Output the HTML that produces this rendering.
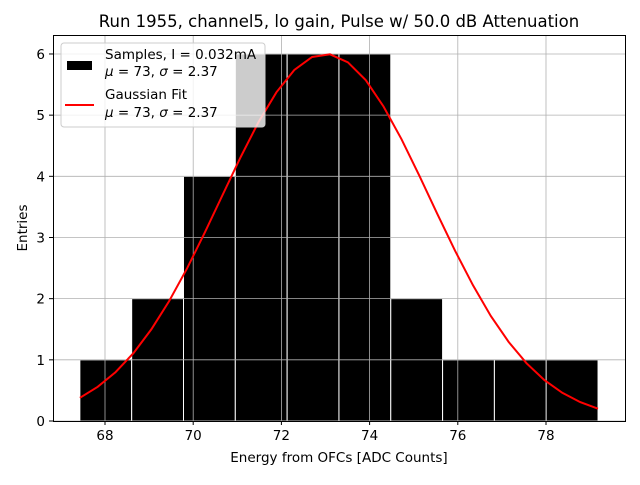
<!DOCTYPE html>
<html><head><meta charset="utf-8"><style>
body{margin:0;background:#fff}
svg text{font-family:"DejaVu Sans","Liberation Sans",sans-serif;fill:#000}
</style></head><body>
<svg id="c" width="640" height="480" xmlns="http://www.w3.org/2000/svg">
<rect width="640" height="480" fill="#fff"/>
<g id="bars"></g>
<g id="grid"></g>
<path id="fit" fill="none" stroke="#ff0000" stroke-width="2"/>
<rect x="53.5" y="35.5" width="572" height="386" fill="none" stroke="#000" stroke-width="1"/>
<g id="ticks"></g>
<text x="339" y="27" font-size="16.5" text-anchor="middle">Run 1955, channel5, lo gain, Pulse w/ 50.0 dB Attenuation</text>
<text x="339" y="462" font-size="13.5" text-anchor="middle">Energy from OFCs [ADC Counts]</text>
<text transform="translate(27,228) rotate(-90)" font-size="13.5" text-anchor="middle">Entries</text>
<g>
<rect x="61" y="43" width="204" height="84" rx="3" fill="#fff" fill-opacity="0.8" stroke="#ccc"/>
<rect x="67" y="61" width="25" height="9" fill="#000"/>
<text x="105" y="59" font-size="13.5">Samples, I = 0.032mA</text>
<text x="105" y="76" font-size="13.5"><tspan font-style="italic">μ</tspan> = 73, <tspan font-style="italic">σ</tspan> = 2.37</text>
<line x1="65" y1="105" x2="94" y2="105" stroke="#ff0000" stroke-width="2"/>
<text x="105" y="99" font-size="13.5">Gaussian Fit</text>
<text x="105" y="117" font-size="13.5"><tspan font-style="italic">μ</tspan> = 73, <tspan font-style="italic">σ</tspan> = 2.37</text>
</g>
</svg>
<script>
const binStart = 67.43;
const binWidth = 1.175;
const counts = [1, 2, 4, 6, 6, 6, 2, 1, 1, 1];
const xTicks = [68, 70, 72, 74, 76, 78];
const yTicks = [0, 1, 2, 3, 4, 5, 6];
const fitMu = [73];
const fitSigma = [2.37];
const fitAmp = [6];
const NS = "http://www.w3.org/2000/svg";
const X = v => 105 + (v - 68) * 44.1;
const Y = v => 421 - v * 61.17;
function mk(tag, attrs, parent){const e=document.createElementNS(NS,tag);for(const k in attrs)e.setAttribute(k,attrs[k]);parent.appendChild(e);return e;}
const grid=document.getElementById('grid'), bars=document.getElementById('bars'), ticks=document.getElementById('ticks');
xTicks.forEach(t=>{
  const l=mk('line',{x1:X(t),x2:X(t),y1:35,y2:421,stroke:'#b0b0b0','stroke-width':0.8},grid);
  
  
  const tk=mk('line',{x1:X(t),x2:X(t),y1:421,y2:425,stroke:'#000'},ticks);
  
  
  const tx=mk('text',{x:X(t),y:440,'font-size':13.5,'text-anchor':'middle'},ticks);tx.textContent=t;
  
  
});
yTicks.forEach(t=>{
  const l=mk('line',{x1:53,x2:625,y1:Y(t),y2:Y(t),stroke:'#b0b0b0','stroke-width':0.8},grid);
  
  
  const tk=mk('line',{x1:49,x2:53,y1:Y(t),y2:Y(t),stroke:'#000'},ticks);
  
  
  const tx=mk('text',{x:45,y:Y(t)+5,'font-size':13.5,'text-anchor':'end'},ticks);tx.textContent=t;
  
  
});
counts.forEach((c,i)=>{
  const x0=X(binStart+i*binWidth), x1=X(binStart+(i+1)*binWidth);
  const r=mk('rect',{x:x0,y:Y(c),width:x1-x0,height:Y(0)-Y(c),fill:'#000',stroke:'#fff','stroke-width':1},bars);
  
  
});
const lo=binStart, hi=binStart+counts.length*binWidth, n=30;
let d='';
for(let i=0;i<n;i++){const x=lo+(hi-lo)*i/(n-1);const y=fitAmp[0]*Math.exp(-((x-fitMu[0])**2)/(2*fitSigma[0]**2));d+=(i?'L':'M')+X(x).toFixed(1)+','+Y(y).toFixed(1);}
document.getElementById('fit').setAttribute('d',d);
</script>
</body></html>
